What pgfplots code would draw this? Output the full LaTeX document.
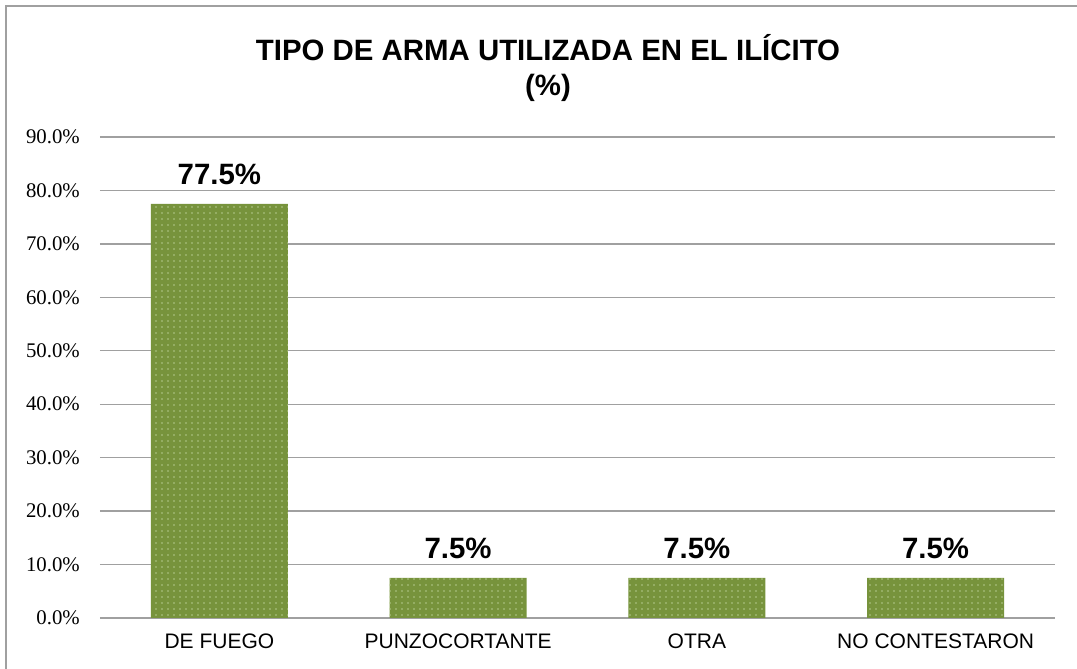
\documentclass[border=0pt]{standalone}
\usepackage{pgfplots}
\pgfplotsset{compat=1.18}
\usepackage{fontspec}
\setmainfont{Liberation Sans}
\newfontfamily\serif{Liberation Serif}
\usetikzlibrary{patterns.meta}
\definecolor{barcol}{HTML}{77933C}
\definecolor{dotcol}{HTML}{B3C88C}
\definecolor{gridcol}{HTML}{A0A0A0}
\begin{document}
\begin{tikzpicture}
\useasboundingbox (0,0) rectangle (1077pt,669pt);
\draw[gridcol, line width=1.5pt] (6pt,-10pt) -- (6pt,663pt) -- (1077pt,663pt);
\node[anchor=base, font=\bfseries\fontsize{29.4}{35}\selectfont] at (548pt,608pt) {TIPO DE ARMA UTILIZADA EN EL ILÍCITO};
\node[anchor=base, font=\bfseries\fontsize{29.4}{35}\selectfont] at (548pt,573pt) {(\%)};
\begin{axis}[
  at={(100pt,51pt)}, anchor=south west,
  width=955pt, height=481pt, scale only axis,
  ybar, bar width=137pt,
  xmin=-0.5, xmax=3.5, ymin=0, ymax=90,
  xtick={0,1,2,3},
  xticklabels={DE FUEGO, PUNZOCORTANTE, OTRA, NO CONTESTARON},
  ytick={0,10,...,90},
  axis line style={draw=none},
  major tick length=0pt,
  ymajorgrids, grid style={gridcol, line width=1.3pt},
  yticklabel={\pgfmathprintnumber[fixed,fixed zerofill,precision=1]{\tick}\%},
  /pgf/number format/assume math mode=true,
  yticklabel style={font=\serif\fontsize{20.8}{24}\selectfont, anchor=east, inner sep=0pt, xshift=-20pt},
  xticklabel style={font=\fontsize{21}{24}\selectfont, anchor=north, inner sep=0pt, yshift=-16pt},
  nodes near coords={\pgfmathprintnumber[fixed,precision=1]{\pgfplotspointmeta}\%},
  nodes near coords style={font=\bfseries\fontsize{29.4}{35}\selectfont, anchor=south, inner sep=0pt, yshift=19pt},
  clip=false,
]
\addplot[draw=none, fill=barcol, postaction={pattern={Dots[distance=6pt,radius=0.8pt]}, pattern color=dotcol}]
  coordinates {(0,77.5) (1,7.5) (2,7.5) (3,7.5)};
\end{axis}
\end{tikzpicture}
\end{document}
